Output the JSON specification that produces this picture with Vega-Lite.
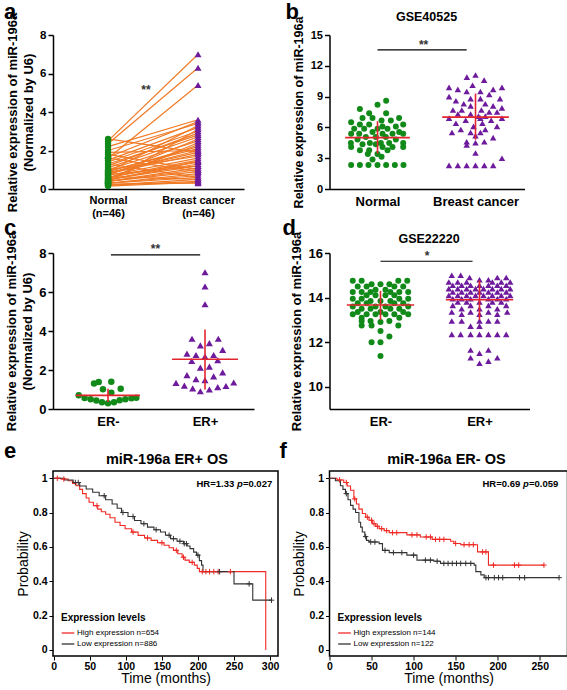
{
"$schema":"https://vega.github.io/schema/vega-lite/v6.json",
"padding":{"left":3,"top":0,"right":0,"bottom":0},
"config":{
 "font":"Liberation Sans",
 "view":{"stroke":null},
 "axis":{"grid":false,"domainColor":"#000","tickColor":"#000","labelColor":"#000","titleColor":"#000","labelFontWeight":"bold","titleFontWeight":"bold","domainWidth":1.5,"tickWidth":1.5,"tickSize":5,"labelFlush":false,"labelOverlap":false},
 "text":{"color":"#000","fontWeight":"bold"}
},
"datasets":{
 "pa":[
  {"p":1,"Normal":2.5,"Breast cancer":7.0},{"p":2,"Normal":2.35,"Breast cancer":6.3},{"p":3,"Normal":1.6,"Breast cancer":5.4},{"p":4,"Normal":2.6,"Breast cancer":1.9},
  {"p":5,"Normal":2.2,"Breast cancer":3.6},{"p":6,"Normal":2.0,"Breast cancer":3.4},{"p":7,"Normal":1.65,"Breast cancer":3.5},{"p":8,"Normal":1.5,"Breast cancer":3.2},
  {"p":9,"Normal":1.4,"Breast cancer":3.0},{"p":10,"Normal":1.3,"Breast cancer":2.8},{"p":11,"Normal":1.2,"Breast cancer":2.9},{"p":12,"Normal":1.1,"Breast cancer":2.7},
  {"p":13,"Normal":1.0,"Breast cancer":2.5},{"p":14,"Normal":0.9,"Breast cancer":3.3},{"p":15,"Normal":0.9,"Breast cancer":2.2},{"p":16,"Normal":0.8,"Breast cancer":2.0},
  {"p":17,"Normal":0.8,"Breast cancer":1.8},{"p":18,"Normal":0.7,"Breast cancer":2.6},{"p":19,"Normal":0.7,"Breast cancer":1.6},{"p":20,"Normal":0.6,"Breast cancer":1.5},
  {"p":21,"Normal":0.6,"Breast cancer":1.4},{"p":22,"Normal":0.5,"Breast cancer":1.3},{"p":23,"Normal":0.5,"Breast cancer":1.2},{"p":24,"Normal":0.5,"Breast cancer":2.4},
  {"p":25,"Normal":0.4,"Breast cancer":1.1},{"p":26,"Normal":0.4,"Breast cancer":1.0},{"p":27,"Normal":0.4,"Breast cancer":0.9},{"p":28,"Normal":0.3,"Breast cancer":0.8},
  {"p":29,"Normal":0.3,"Breast cancer":0.7},{"p":30,"Normal":0.3,"Breast cancer":0.6},{"p":31,"Normal":0.2,"Breast cancer":0.5},{"p":32,"Normal":0.2,"Breast cancer":0.4},
  {"p":33,"Normal":0.25,"Breast cancer":0.3},{"p":34,"Normal":1.6,"Breast cancer":0.9},{"p":35,"Normal":1.3,"Breast cancer":0.6},{"p":36,"Normal":1.0,"Breast cancer":1.7},
  {"p":37,"Normal":0.95,"Breast cancer":2.1},{"p":38,"Normal":0.85,"Breast cancer":1.9},{"p":39,"Normal":0.75,"Breast cancer":1.2},{"p":40,"Normal":0.65,"Breast cancer":0.5},
  {"p":41,"Normal":0.55,"Breast cancer":2.3},{"p":42,"Normal":0.45,"Breast cancer":1.45},{"p":43,"Normal":0.35,"Breast cancer":3.1},{"p":44,"Normal":1.9,"Breast cancer":2.0},
  {"p":45,"Normal":1.8,"Breast cancer":1.0},{"p":46,"Normal":0.15,"Breast cancer":0.35}
 ],
 "bN":[
  {"x":0.088,"v":8.59},{"x":0,"v":8.21},{"x":-0.18,"v":7.79},{"x":-0.085,"v":7.37},{"x":0.088,"v":7.37},{"x":0.22,"v":6.92},{"x":-0.153,"v":6.92},{"x":-0.051,"v":6.92},
  {"x":0.041,"v":6.67},{"x":0.136,"v":6.67},{"x":-0.269,"v":6.51},{"x":-0.18,"v":6.28},{"x":0.262,"v":6.28},{"x":-0.085,"v":6.28},{"x":0.187,"v":6.09},{"x":0.051,"v":6.09},
  {"x":-0.238,"v":5.87},{"x":-0.136,"v":5.87},{"x":0,"v":5.87},{"x":0.102,"v":5.87},{"x":-0.051,"v":5.54},{"x":0.221,"v":5.54},{"x":-0.269,"v":5.38},{"x":-0.187,"v":5.38},
  {"x":0.051,"v":5.38},{"x":0.153,"v":5.38},{"x":0.262,"v":5.38},{"x":-0.119,"v":5.06},{"x":-0.017,"v":5.06},{"x":0.085,"v":5.06},{"x":-0.204,"v":4.81},{"x":0.187,"v":4.81},
  {"x":-0.272,"v":4.49},{"x":-0.078,"v":4.49},{"x":0.034,"v":4.49},{"x":0.119,"v":4.49},{"x":0.262,"v":4.49},{"x":-0.153,"v":4.36},{"x":-0.017,"v":4.36},{"x":-0.269,"v":4.1},
  {"x":0.051,"v":4.1},{"x":0.153,"v":4.1},{"x":0.262,"v":4.1},{"x":-0.18,"v":3.78},{"x":-0.085,"v":3.78},{"x":0.102,"v":3.78},{"x":-0.099,"v":3.4},{"x":0,"v":3.4},
  {"x":0.041,"v":3.14},{"x":-0.051,"v":2.88},{"x":-0.269,"v":2.34},{"x":-0.18,"v":2.34},{"x":-0.092,"v":2.34},{"x":0,"v":2.34},{"x":0.088,"v":2.34},{"x":0.177,"v":2.34},{"x":0.265,"v":2.34}
 ],
 "bT":[
  {"x":1,"v":11.1},{"x":0.912,"v":10.9},{"x":1.088,"v":10.6},{"x":0.97,"v":10.1},{"x":0.73,"v":9.9},{"x":1.27,"v":9.9},{"x":0.82,"v":9.7},{"x":1.18,"v":9.7},
  {"x":0.91,"v":9.5},{"x":1.05,"v":9.5},{"x":1.14,"v":9.2},{"x":0.73,"v":9.0},{"x":0.95,"v":8.8},{"x":1.05,"v":8.8},{"x":1.25,"v":8.8},{"x":0.8,"v":8.6},
  {"x":0.88,"v":8.3},{"x":1.1,"v":8.3},{"x":0.95,"v":8.1},{"x":1.18,"v":8.1},{"x":1.27,"v":7.9},{"x":0.77,"v":7.7},{"x":0.86,"v":7.7},{"x":1.06,"v":7.7},
  {"x":1.14,"v":7.5},{"x":1.22,"v":7.5},{"x":0.95,"v":7.3},{"x":0.82,"v":7.3},{"x":1.03,"v":7.1},{"x":1.1,"v":7.1},{"x":0.73,"v":6.9},{"x":1.05,"v":6.9},
  {"x":1.27,"v":6.9},{"x":0.9,"v":6.7},{"x":1.16,"v":6.7},{"x":0.8,"v":6.4},{"x":1.07,"v":6.4},{"x":0.98,"v":6.1},{"x":1.22,"v":6.1},{"x":0.85,"v":5.8},
  {"x":1.1,"v":5.8},{"x":0.76,"v":5.5},{"x":0.95,"v":5.5},{"x":1.05,"v":5.5},{"x":1,"v":5.2},{"x":1.18,"v":5.0},{"x":0.91,"v":4.6},{"x":1.09,"v":4.6},
  {"x":1,"v":4.5},{"x":0.91,"v":4.3},{"x":1,"v":3.5},{"x":1.27,"v":3.0},{"x":0.73,"v":2.3},{"x":0.82,"v":2.3},{"x":0.91,"v":2.3},{"x":1,"v":2.3},{"x":1.09,"v":2.3},{"x":1.18,"v":2.3}
 ],
 "bS":[
  {"x":-0.33,"x2":0.33,"v":5.0,"v2":5.0},{"x":0,"x2":0,"v":3.46,"v2":6.6},
  {"x":0.66,"x2":1.34,"v":7.0,"v2":7.0},{"x":1,"x2":1,"v":4.8,"v2":9.3}
 ],
 "cN":[
  {"x":-0.144,"v":1.31},{"x":-0.096,"v":1.38},{"x":0.034,"v":1.4},{"x":-0.052,"v":1.01},{"x":0.131,"v":1.04},{"x":0.034,"v":0.84},
  {"x":-0.302,"v":0.7},{"x":-0.241,"v":0.56},{"x":-0.179,"v":0.5},{"x":-0.12,"v":0.43},{"x":-0.062,"v":0.35},{"x":0,"v":0.3},
  {"x":0.062,"v":0.35},{"x":0.12,"v":0.45},{"x":0.179,"v":0.5},{"x":0.241,"v":0.55},{"x":0.292,"v":0.58}
 ],
 "cT":[
  {"x":1,"v":7.01},{"x":1,"v":6.28},{"x":1,"v":5.37},{"x":0.866,"v":3.6},{"x":1.137,"v":3.6},{"x":0.952,"v":3.26},{"x":1.045,"v":3.38},
  {"x":0.814,"v":2.84},{"x":0.907,"v":2.77},{"x":1,"v":2.69},{"x":1.089,"v":2.77},{"x":1.182,"v":3.03},{"x":0.863,"v":2.46},{"x":1.131,"v":2.5},
  {"x":0.952,"v":2.12},{"x":1.045,"v":2.17},{"x":0.814,"v":1.74},{"x":0.907,"v":1.53},{"x":1,"v":1.48},{"x":1.089,"v":1.67},{"x":1.182,"v":1.88},
  {"x":0.701,"v":1.34},{"x":0.787,"v":1.2},{"x":0.873,"v":1.06},{"x":0.952,"v":0.91},{"x":1.045,"v":1.0},{"x":1.131,"v":1.12},{"x":1.216,"v":1.18},{"x":1.296,"v":1.36}
 ],
 "cS":[
  {"x":-0.33,"x2":0.33,"v":0.7,"v2":0.7},{"x":0,"x2":0,"v":0.36,"v2":1.04},
  {"x":0.66,"x2":1.34,"v":2.55,"v2":2.55},{"x":1,"x2":1,"v":1.0,"v2":4.08}
 ],
 "dN":[
  {"x":-0.28,"v":14.75},{"x":-0.19,"v":14.75},{"x":0.18,"v":14.75},{"x":0.27,"v":14.75},
  {"x":-0.09,"v":14.6},{"x":0,"v":14.6},{"x":0.09,"v":14.6},
  {"x":-0.23,"v":14.5},{"x":-0.14,"v":14.5},{"x":0.14,"v":14.5},{"x":0.23,"v":14.5},
  {"x":-0.05,"v":14.35},{"x":0.05,"v":14.35},
  {"x":-0.28,"v":14.25},{"x":-0.19,"v":14.25},{"x":-0.1,"v":14.25},{"x":0.1,"v":14.25},{"x":0.19,"v":14.25},{"x":0.28,"v":14.25},
  {"x":-0.14,"v":14.1},{"x":-0.05,"v":14.1},{"x":0.05,"v":14.1},{"x":0.14,"v":14.1},
  {"x":-0.28,"v":13.95},{"x":-0.19,"v":13.95},{"x":0.19,"v":13.95},{"x":0.28,"v":13.95},
  {"x":-0.1,"v":13.85},{"x":0,"v":13.85},{"x":0.1,"v":13.85},
  {"x":-0.23,"v":13.75},{"x":-0.14,"v":13.75},{"x":0.14,"v":13.75},{"x":0.23,"v":13.75},
  {"x":-0.28,"v":13.6},{"x":-0.05,"v":13.6},{"x":0.05,"v":13.6},{"x":0.28,"v":13.6},
  {"x":-0.19,"v":13.5},{"x":-0.1,"v":13.5},{"x":0.1,"v":13.5},{"x":0.19,"v":13.5},
  {"x":-0.23,"v":13.35},{"x":0,"v":13.35},{"x":0.23,"v":13.35},
  {"x":-0.28,"v":13.25},{"x":-0.14,"v":13.25},{"x":-0.05,"v":13.25},{"x":0.05,"v":13.25},{"x":0.14,"v":13.25},{"x":0.28,"v":13.25},
  {"x":-0.19,"v":13.1},{"x":0.19,"v":13.1},
  {"x":-0.19,"v":12.95},{"x":-0.1,"v":12.95},{"x":0.09,"v":12.95},{"x":0,"v":12.9},
  {"x":-0.19,"v":12.75},{"x":-0.09,"v":12.75},{"x":0.18,"v":12.75},
  {"x":0,"v":12.5},{"x":0.09,"v":12.25},{"x":-0.09,"v":12.0},{"x":0,"v":12.0},{"x":0,"v":11.38}
 ],
 "dT":[
  {"x":0.72,"v":15.0},{"x":0.81,"v":15.0},
  {"x":0.9,"v":14.9},{"x":1.18,"v":14.9},{"x":1.27,"v":14.9},
  {"x":1.0,"v":14.8},{"x":1.09,"v":14.8},
  {"x":0.69,"v":14.7},{"x":0.78,"v":14.7},{"x":0.87,"v":14.7},{"x":1.13,"v":14.7},{"x":1.22,"v":14.7},{"x":1.31,"v":14.7},
  {"x":0.73,"v":14.55},{"x":0.82,"v":14.55},{"x":0.91,"v":14.55},{"x":1.0,"v":14.55},{"x":1.09,"v":14.55},{"x":1.18,"v":14.55},{"x":1.27,"v":14.55},
  {"x":0.69,"v":14.4},{"x":0.78,"v":14.4},{"x":0.87,"v":14.4},{"x":0.96,"v":14.4},{"x":1.04,"v":14.4},{"x":1.13,"v":14.4},{"x":1.22,"v":14.4},{"x":1.31,"v":14.4},
  {"x":0.73,"v":14.25},{"x":0.82,"v":14.25},{"x":0.91,"v":14.25},{"x":1.0,"v":14.25},{"x":1.09,"v":14.25},{"x":1.18,"v":14.25},{"x":1.27,"v":14.25},
  {"x":0.69,"v":14.1},{"x":0.78,"v":14.1},{"x":0.87,"v":14.1},{"x":0.96,"v":14.1},{"x":1.04,"v":14.1},{"x":1.13,"v":14.1},{"x":1.22,"v":14.1},{"x":1.31,"v":14.1},
  {"x":0.73,"v":13.95},{"x":0.82,"v":13.95},{"x":0.91,"v":13.95},{"x":1.09,"v":13.95},{"x":1.18,"v":13.95},{"x":1.27,"v":13.95},
  {"x":0.78,"v":13.8},{"x":0.87,"v":13.8},{"x":1.0,"v":13.8},{"x":1.13,"v":13.8},{"x":1.22,"v":13.8},
  {"x":0.73,"v":13.65},{"x":0.91,"v":13.65},{"x":1.09,"v":13.65},{"x":1.27,"v":13.65},
  {"x":0.82,"v":13.5},{"x":1.0,"v":13.5},{"x":1.18,"v":13.5},
  {"x":0.72,"v":13.35},{"x":0.91,"v":13.35},{"x":1.09,"v":13.35},{"x":1.28,"v":13.35},
  {"x":0.82,"v":13.25},{"x":1.0,"v":13.25},{"x":1.18,"v":13.25},
  {"x":0.72,"v":12.95},{"x":0.82,"v":12.95},{"x":1.0,"v":12.95},{"x":1.09,"v":12.95},{"x":1.18,"v":12.95},
  {"x":0.91,"v":12.72},{"x":1.0,"v":12.72},
  {"x":0.72,"v":12.35},{"x":0.81,"v":12.35},{"x":0.91,"v":12.35},{"x":1.0,"v":12.35},{"x":1.09,"v":12.35},{"x":1.18,"v":12.35},{"x":1.27,"v":12.35},
  {"x":0.91,"v":11.65},{"x":1.09,"v":11.65},{"x":1.0,"v":11.5},{"x":0.91,"v":11.3},{"x":1.18,"v":11.3},{"x":1.09,"v":11.15},{"x":1.0,"v":11.05}
 ],
 "dS":[
  {"x":-0.34,"x2":0.34,"v":13.67,"v2":13.67},{"x":0,"x2":0,"v":13.0,"v2":14.3},
  {"x":0.66,"x2":1.34,"v":13.9,"v2":13.9},{"x":1,"x2":1,"v":13.0,"v2":14.77}
 ],
 "kmE":[
  {"grp":"High expression n=654","t":0,"s":1},{"grp":"High expression n=654","t":10,"s":0.995},{"grp":"High expression n=654","t":20,"s":0.985},{"grp":"High expression n=654","t":26,"s":0.97},
  {"grp":"High expression n=654","t":31,"s":0.956},{"grp":"High expression n=654","t":36,"s":0.935},{"grp":"High expression n=654","t":40,"s":0.91},{"grp":"High expression n=654","t":45,"s":0.885},
  {"grp":"High expression n=654","t":49,"s":0.86},{"grp":"High expression n=654","t":55,"s":0.84},{"grp":"High expression n=654","t":61,"s":0.82},{"grp":"High expression n=654","t":66,"s":0.805},
  {"grp":"High expression n=654","t":72,"s":0.79},{"grp":"High expression n=654","t":78,"s":0.77},{"grp":"High expression n=654","t":85,"s":0.744},{"grp":"High expression n=654","t":92,"s":0.725},
  {"grp":"High expression n=654","t":99,"s":0.706},{"grp":"High expression n=654","t":108,"s":0.686},{"grp":"High expression n=654","t":117,"s":0.667},{"grp":"High expression n=654","t":126,"s":0.652},
  {"grp":"High expression n=654","t":135,"s":0.638},{"grp":"High expression n=654","t":144,"s":0.624},{"grp":"High expression n=654","t":153,"s":0.61},{"grp":"High expression n=654","t":160,"s":0.595},
  {"grp":"High expression n=654","t":166,"s":0.58},{"grp":"High expression n=654","t":172,"s":0.56},{"grp":"High expression n=654","t":178,"s":0.54},{"grp":"High expression n=654","t":182,"s":0.523},
  {"grp":"High expression n=654","t":188,"s":0.51},{"grp":"High expression n=654","t":195,"s":0.494},{"grp":"High expression n=654","t":199,"s":0.475},{"grp":"High expression n=654","t":202,"s":0.456},
  {"grp":"High expression n=654","t":294,"s":0},
  {"grp":"Low expression n=886","t":0,"s":1},{"grp":"Low expression n=886","t":15,"s":0.99},{"grp":"Low expression n=886","t":27,"s":0.975},{"grp":"Low expression n=886","t":36,"s":0.955},
  {"grp":"Low expression n=886","t":45,"s":0.937},{"grp":"Low expression n=886","t":54,"s":0.918},{"grp":"Low expression n=886","t":63,"s":0.898},{"grp":"Low expression n=886","t":72,"s":0.875},
  {"grp":"Low expression n=886","t":81,"s":0.85},{"grp":"Low expression n=886","t":88,"s":0.825},{"grp":"Low expression n=886","t":94,"s":0.8},{"grp":"Low expression n=886","t":103,"s":0.777},
  {"grp":"Low expression n=886","t":112,"s":0.754},{"grp":"Low expression n=886","t":121,"s":0.735},{"grp":"Low expression n=886","t":130,"s":0.715},{"grp":"Low expression n=886","t":139,"s":0.7},
  {"grp":"Low expression n=886","t":148,"s":0.687},{"grp":"Low expression n=886","t":155,"s":0.668},{"grp":"Low expression n=886","t":162,"s":0.648},{"grp":"Low expression n=886","t":171,"s":0.633},
  {"grp":"Low expression n=886","t":180,"s":0.619},{"grp":"Low expression n=886","t":185,"s":0.605},{"grp":"Low expression n=886","t":189,"s":0.59},{"grp":"Low expression n=886","t":194,"s":0.57},
  {"grp":"Low expression n=886","t":198,"s":0.552},{"grp":"Low expression n=886","t":202,"s":0.52},{"grp":"Low expression n=886","t":205,"s":0.494},{"grp":"Low expression n=886","t":207,"s":0.456},
  {"grp":"Low expression n=886","t":250,"s":0.385},{"grp":"Low expression n=886","t":276,"s":0.29},{"grp":"Low expression n=886","t":302,"s":0.29}
 ],
 "kmEc":[
  {"grp":"High expression n=654","t":5,"s":1},{"grp":"High expression n=654","t":14,"s":0.995},{"grp":"High expression n=654","t":60,"s":0.84},{"grp":"High expression n=654","t":110,"s":0.686},
  {"grp":"High expression n=654","t":130,"s":0.652},{"grp":"High expression n=654","t":150,"s":0.624},{"grp":"High expression n=654","t":170,"s":0.58},{"grp":"High expression n=654","t":180,"s":0.54},
  {"grp":"High expression n=654","t":192,"s":0.51},{"grp":"High expression n=654","t":206,"s":0.456},{"grp":"High expression n=654","t":211,"s":0.456},{"grp":"High expression n=654","t":216,"s":0.456},
  {"grp":"High expression n=654","t":222,"s":0.456},{"grp":"High expression n=654","t":228,"s":0.456},{"grp":"High expression n=654","t":245,"s":0.456},
  {"grp":"Low expression n=886","t":30,"s":0.975},{"grp":"Low expression n=886","t":34,"s":0.975},{"grp":"Low expression n=886","t":70,"s":0.898},{"grp":"Low expression n=886","t":96,"s":0.8},
  {"grp":"Low expression n=886","t":110,"s":0.777},{"grp":"Low expression n=886","t":125,"s":0.735},{"grp":"Low expression n=886","t":142,"s":0.7},{"grp":"Low expression n=886","t":160,"s":0.668},
  {"grp":"Low expression n=886","t":166,"s":0.648},{"grp":"Low expression n=886","t":175,"s":0.633},{"grp":"Low expression n=886","t":181,"s":0.619},{"grp":"Low expression n=886","t":184,"s":0.619},
  {"grp":"Low expression n=886","t":200,"s":0.552},{"grp":"Low expression n=886","t":230,"s":0.456},{"grp":"Low expression n=886","t":271,"s":0.385},{"grp":"Low expression n=886","t":302,"s":0.29}
 ],
 "kmF":[
  {"grp":"High expression n=144","t":0,"s":1},{"grp":"High expression n=144","t":9,"s":0.99},{"grp":"High expression n=144","t":17,"s":0.975},{"grp":"High expression n=144","t":21,"s":0.955},
  {"grp":"High expression n=144","t":25,"s":0.93},{"grp":"High expression n=144","t":29,"s":0.88},{"grp":"High expression n=144","t":32,"s":0.85},{"grp":"High expression n=144","t":35,"s":0.82},
  {"grp":"High expression n=144","t":39,"s":0.795},{"grp":"High expression n=144","t":43,"s":0.773},{"grp":"High expression n=144","t":47,"s":0.755},{"grp":"High expression n=144","t":51,"s":0.735},
  {"grp":"High expression n=144","t":55,"s":0.72},{"grp":"High expression n=144","t":59,"s":0.706},{"grp":"High expression n=144","t":65,"s":0.695},{"grp":"High expression n=144","t":71,"s":0.683},
  {"grp":"High expression n=144","t":92,"s":0.67},{"grp":"High expression n=144","t":108,"s":0.658},{"grp":"High expression n=144","t":122,"s":0.644},{"grp":"High expression n=144","t":144,"s":0.633},
  {"grp":"High expression n=144","t":148,"s":0.62},{"grp":"High expression n=144","t":156,"s":0.613},{"grp":"High expression n=144","t":176,"s":0.571},{"grp":"High expression n=144","t":189,"s":0.494},
  {"grp":"High expression n=144","t":255,"s":0.494},
  {"grp":"Low expression n=122","t":0,"s":1},{"grp":"Low expression n=122","t":7,"s":0.985},{"grp":"Low expression n=122","t":13,"s":0.956},{"grp":"Low expression n=122","t":16,"s":0.935},
  {"grp":"Low expression n=122","t":19,"s":0.91},{"grp":"Low expression n=122","t":22,"s":0.875},{"grp":"Low expression n=122","t":25,"s":0.842},{"grp":"Low expression n=122","t":28,"s":0.82},
  {"grp":"Low expression n=122","t":31,"s":0.8},{"grp":"Low expression n=122","t":35,"s":0.744},{"grp":"Low expression n=122","t":37,"s":0.715},{"grp":"Low expression n=122","t":39,"s":0.687},
  {"grp":"Low expression n=122","t":42,"s":0.66},{"grp":"Low expression n=122","t":44,"s":0.638},{"grp":"Low expression n=122","t":47,"s":0.629},{"grp":"Low expression n=122","t":59,"s":0.619},
  {"grp":"Low expression n=122","t":63,"s":0.58},{"grp":"Low expression n=122","t":71,"s":0.567},{"grp":"Low expression n=122","t":92,"s":0.552},{"grp":"Low expression n=122","t":104,"s":0.523},
  {"grp":"Low expression n=122","t":124,"s":0.517},{"grp":"Low expression n=122","t":132,"s":0.504},{"grp":"Low expression n=122","t":172,"s":0.494},{"grp":"Low expression n=122","t":174,"s":0.456},
  {"grp":"Low expression n=122","t":180,"s":0.437},{"grp":"Low expression n=122","t":184,"s":0.421},{"grp":"Low expression n=122","t":273,"s":0.421}
 ],
 "kmFc":[
  {"grp":"High expression n=144","t":12,"s":0.99},{"grp":"High expression n=144","t":20,"s":0.975},{"grp":"High expression n=144","t":30,"s":0.88},{"grp":"High expression n=144","t":45,"s":0.773},
  {"grp":"High expression n=144","t":50,"s":0.755},{"grp":"High expression n=144","t":53,"s":0.735},{"grp":"High expression n=144","t":57,"s":0.72},{"grp":"High expression n=144","t":62,"s":0.706},
  {"grp":"High expression n=144","t":68,"s":0.695},{"grp":"High expression n=144","t":75,"s":0.683},{"grp":"High expression n=144","t":80,"s":0.683},{"grp":"High expression n=144","t":98,"s":0.67},
  {"grp":"High expression n=144","t":104,"s":0.67},{"grp":"High expression n=144","t":115,"s":0.658},{"grp":"High expression n=144","t":120,"s":0.658},{"grp":"High expression n=144","t":126,"s":0.644},
  {"grp":"High expression n=144","t":131,"s":0.644},{"grp":"High expression n=144","t":136,"s":0.644},{"grp":"High expression n=144","t":150,"s":0.62},{"grp":"High expression n=144","t":160,"s":0.613},
  {"grp":"High expression n=144","t":166,"s":0.613},{"grp":"High expression n=144","t":171,"s":0.613},{"grp":"High expression n=144","t":182,"s":0.571},{"grp":"High expression n=144","t":186,"s":0.571},
  {"grp":"High expression n=144","t":195,"s":0.494},{"grp":"High expression n=144","t":220,"s":0.494},{"grp":"High expression n=144","t":225,"s":0.494},{"grp":"High expression n=144","t":255,"s":0.494},
  {"grp":"Low expression n=122","t":20,"s":0.91},{"grp":"Low expression n=122","t":43,"s":0.66},{"grp":"Low expression n=122","t":49,"s":0.629},{"grp":"Low expression n=122","t":54,"s":0.629},
  {"grp":"Low expression n=122","t":66,"s":0.58},{"grp":"Low expression n=122","t":76,"s":0.567},{"grp":"Low expression n=122","t":86,"s":0.567},{"grp":"Low expression n=122","t":100,"s":0.552},
  {"grp":"Low expression n=122","t":114,"s":0.523},{"grp":"Low expression n=122","t":120,"s":0.523},{"grp":"Low expression n=122","t":128,"s":0.517},{"grp":"Low expression n=122","t":136,"s":0.504},
  {"grp":"Low expression n=122","t":141,"s":0.504},{"grp":"Low expression n=122","t":146,"s":0.504},{"grp":"Low expression n=122","t":151,"s":0.504},{"grp":"Low expression n=122","t":156,"s":0.504},
  {"grp":"Low expression n=122","t":162,"s":0.504},{"grp":"Low expression n=122","t":168,"s":0.504},{"grp":"Low expression n=122","t":186,"s":0.421},{"grp":"Low expression n=122","t":189,"s":0.421},
  {"grp":"Low expression n=122","t":196,"s":0.421},{"grp":"Low expression n=122","t":201,"s":0.421},{"grp":"Low expression n=122","t":206,"s":0.421},{"grp":"Low expression n=122","t":226,"s":0.421},
  {"grp":"Low expression n=122","t":232,"s":0.421},{"grp":"Low expression n=122","t":273,"s":0.421}
 ]
},
"columns":2,
"bounds":"flush",
"align":"all",
"spacing":{"row":33,"column":38.5},
"resolve":{"scale":{"color":"independent"},"legend":{"color":"independent"}},
"concat":[
 {"width":191,"height":154,
  "encoding":{
   "x":{"field":"g","type":"nominal","scale":{"type":"point","domain":["Normal","Breast cancer"],"padding":0.561,"align":0.545},
        "axis":{"title":null,"ticks":false,"labelAngle":0,"labelFontSize":11,"labelPadding":5,"labelLineHeight":13,"labelOverlap":false,"labelExpr":"datum.value == 'Normal' ? ['Normal','(n=46)'] : ['Breast cancer','(n=46)']"}},
   "y":{"field":"v","type":"quantitative","scale":{"domain":[0,8],"nice":false},
        "axis":{"values":[0,2,4,6,8],"labelOverlap":false,"title":["Relative expression of miR-196a","(Normalized by U6)"],"titleFontSize":13,"titleLineHeight":16,"labelFontSize":11.5,"titlePadding":4,"labelPadding":2}}
  },
  "layer":[
   {"data":{"name":"pa"},"transform":[{"fold":["Normal","Breast cancer"],"as":["g","v"]}],
    "mark":{"type":"line","color":"#f07a26","strokeWidth":1.2},"encoding":{"detail":{"field":"p","type":"nominal"}}},
   {"data":{"name":"pa"},"transform":[{"fold":["Normal"],"as":["g","v"]}],
    "mark":{"type":"point","shape":"circle","filled":true,"color":"#118a1a","size":40,"opacity":1}},
   {"data":{"name":"pa"},"transform":[{"fold":["Breast cancer"],"as":["g","v"]}],
    "mark":{"type":"point","shape":"triangle-up","filled":true,"color":"#6d1a9c","size":48,"opacity":1}},
   {"data":{"values":[{"g":"Normal","v":5.15}]},"mark":{"type":"text","text":"**","fontSize":12,"color":"#333","dx":38}},
   {"data":{"values":[{"g":"Normal","v":8.83}]},"mark":{"type":"text","text":"a","fontSize":22,"align":"left","baseline":"alphabetic","dx":-104}}
  ]
 },
 {"width":195,"height":154,
  "encoding":{
   "x":{"field":"x","type":"quantitative","scale":{"domain":[-0.49,1.5],"nice":false,"zero":false},
        "axis":{"title":null,"values":[0,1],"ticks":false,"labelFontSize":13,"labelPadding":6,"labelOverlap":false,"labelExpr":"datum.value == 0 ? 'Normal' : 'Breast cancer'"}},
   "y":{"field":"v","type":"quantitative","scale":{"domain":[0,15],"nice":false},
        "axis":{"values":[0,3,6,9,12,15],"labelOverlap":false,"title":"Relative expression of miR-196a","titleFontSize":12.5,"labelFontSize":11,"titlePadding":5,"labelPadding":2}}
  },
  "layer":[
   {"data":{"name":"bN"},"mark":{"type":"point","shape":"circle","filled":true,"color":"#118a1a","size":36,"opacity":1}},
   {"data":{"name":"bT"},"mark":{"type":"point","shape":"triangle-up","filled":true,"color":"#6d1a9c","size":42,"opacity":1}},
   {"data":{"name":"bS"},"mark":{"type":"rule","color":"#e3262e","strokeWidth":1.6},"encoding":{"x2":{"field":"x2"},"y2":{"field":"v2"}}},
   {"data":{"values":[{"x":0,"x2":0.91,"v":13.56}]},"mark":{"type":"rule","color":"#000","strokeWidth":1.2},"encoding":{"x2":{"field":"x2"}}},
   {"data":{"values":[{"x":0.47,"v":14.05}]},"mark":{"type":"text","text":"**","fontSize":12,"color":"#333"}},
   {"data":{"values":[{"x":0.5,"v":16.75}]},"mark":{"type":"text","text":"GSE40525","fontSize":12.5,"baseline":"middle"}},
   {"data":{"values":[{"x":-0.939,"v":16.56}]},"mark":{"type":"text","text":"b","fontSize":22,"align":"left","baseline":"alphabetic"}}
  ]
 },
 {"width":201,"height":156,
  "encoding":{
   "x":{"field":"x","type":"quantitative","scale":{"domain":[-0.567,1.505],"nice":false,"zero":false},
        "axis":{"title":null,"values":[0,1],"ticks":false,"labelFontSize":13,"labelPadding":6,"labelOverlap":false,"labelExpr":"datum.value == 0 ? 'ER-' : 'ER+'"}},
   "y":{"field":"v","type":"quantitative","scale":{"domain":[0,8],"nice":false},
        "axis":{"values":[0,2,4,6,8],"labelOverlap":false,"title":["Relative expression of miR-196a","(Normalized by U6)"],"titleFontSize":13,"titleLineHeight":16,"labelFontSize":13,"titlePadding":4,"labelPadding":2}}
  },
  "layer":[
   {"data":{"name":"cN"},"mark":{"type":"point","shape":"circle","filled":true,"color":"#118a1a","size":42,"opacity":1}},
   {"data":{"name":"cT"},"mark":{"type":"point","shape":"triangle-up","filled":true,"color":"#6d1a9c","size":50,"opacity":1}},
   {"data":{"name":"cS"},"mark":{"type":"rule","color":"#e3262e","strokeWidth":1.6},"encoding":{"x2":{"field":"x2"},"y2":{"field":"v2"}}},
   {"data":{"values":[{"x":0.03,"x2":0.95,"v":7.9}]},"mark":{"type":"rule","color":"#000","strokeWidth":1.2},"encoding":{"x2":{"field":"x2"}}},
   {"data":{"values":[{"x":0.49,"v":8.2}]},"mark":{"type":"text","text":"**","fontSize":12,"color":"#333"}},
   {"data":{"values":[{"x":-1.072,"v":8.92}]},"mark":{"type":"text","text":"c","fontSize":22,"align":"left","baseline":"alphabetic"}}
  ]
 },
 {"width":200,"height":156,
  "encoding":{
   "x":{"field":"x","type":"quantitative","scale":{"domain":[-0.515,1.505],"nice":false,"zero":false},
        "axis":{"title":null,"values":[0,1],"ticks":false,"labelFontSize":13,"labelPadding":6,"labelOverlap":false,"labelExpr":"datum.value == 0 ? 'ER-' : 'ER+'"}},
   "y":{"field":"v","type":"quantitative","scale":{"domain":[9,16],"nice":false,"zero":false},
        "axis":{"values":[10,12,14,16],"labelOverlap":false,"title":"Relative expression of miR-196a","titleFontSize":13,"labelFontSize":13,"titlePadding":5,"labelPadding":2}}
  },
  "layer":[
   {"data":{"name":"dN"},"mark":{"type":"point","shape":"circle","filled":true,"color":"#118a1a","size":36,"opacity":1}},
   {"data":{"name":"dT"},"mark":{"type":"point","shape":"triangle-up","filled":true,"color":"#6d1a9c","size":42,"opacity":1}},
   {"data":{"name":"dS"},"mark":{"type":"rule","color":"#e3262e","strokeWidth":1.6},"encoding":{"x2":{"field":"x2"},"y2":{"field":"v2"}}},
   {"data":{"values":[{"x":0,"x2":0.93,"v":15.63}]},"mark":{"type":"rule","color":"#000","strokeWidth":1.2},"encoding":{"x2":{"field":"x2"}}},
   {"data":{"values":[{"x":0.47,"v":15.88}]},"mark":{"type":"text","text":"*","fontSize":12,"color":"#333"}},
   {"data":{"values":[{"x":0.49,"v":16.63}]},"mark":{"type":"text","text":"GSE22220","fontSize":12.5,"baseline":"middle"}},
   {"data":{"values":[{"x":-0.99,"v":16.81}]},"mark":{"type":"text","text":"d","fontSize":22,"align":"left","baseline":"alphabetic"}}
  ]
 },
 {"width":225,"height":185,
  "view":{"stroke":"#000","strokeWidth":1.5},
  "encoding":{
   "x":{"field":"t","type":"quantitative","scale":{"domain":[-1,311],"nice":false,"zero":false},
        "axis":{"values":[0,50,100,150,200,250,300],"labelOverlap":false,"title":"Time (months)","titleFontWeight":"normal","titleFontSize":14,"labelFontSize":10.5,"tickSize":4,"tickWidth":1,"domain":false,"titlePadding":0,"labelPadding":1}},
   "y":{"field":"s","type":"quantitative","scale":{"domain":[-0.035,1.042],"nice":false,"zero":false},
        "axis":{"values":[0,0.2,0.4,0.6,0.8,1],"labelOverlap":false,"format":"~g","title":"Probability","titleFontWeight":"normal","titleFontSize":14,"labelFontSize":10.5,"tickSize":4,"tickWidth":1,"domain":false,"titlePadding":2,"labelPadding":2}}
  },
  "layer":[
   {"data":{"name":"kmE"},"mark":{"type":"line","interpolate":"step-after","strokeWidth":1.1},
    "encoding":{"color":{"field":"grp","type":"nominal","scale":{"domain":["High expression n=654","Low expression n=886"],"range":["#ee2a24","#333333"]},
        "legend":{"title":"Expression levels","orient":"bottom-left","offset":8,"titleFontSize":10,"titleFontWeight":"bold","titleColor":"#000","labelFontSize":8,"labelColor":"#000","symbolType":"stroke","symbolSize":160,"symbolStrokeWidth":1.3,"rowPadding":0,"titlePadding":3,"labelOffset":2,"padding":0}}}},
   {"data":{"name":"kmEc"},"mark":{"type":"point","shape":"M-1,0L1,0M0,-1L0,1","filled":false,"size":30,"strokeWidth":1,"opacity":1},
    "encoding":{"color":{"field":"grp","type":"nominal"}}},
   {"data":{"values":[{"t":303,"s":0.965}]},"mark":{"type":"text","text":"=0.027","fontSize":9.5,"align":"right","baseline":"middle"}},
   {"data":{"values":[{"t":303,"s":0.965}]},"mark":{"type":"text","text":"p","fontSize":9.5,"fontStyle":"italic","align":"right","baseline":"middle","dx":-29.5}},
   {"data":{"values":[{"t":303,"s":0.965}]},"mark":{"type":"text","text":"HR=1.33","fontSize":9.5,"align":"right","baseline":"middle","dx":-38}},
   {"data":{"values":[{"t":157,"s":1.106}]},"mark":{"type":"text","text":"miR-196a ER+ OS","fontSize":14.5,"baseline":"middle"}},
   {"data":{"values":[{"t":-68.9,"s":1.118}]},"mark":{"type":"text","text":"e","fontSize":22,"align":"left","baseline":"alphabetic"}}
  ]
 },
 {"width":238,"height":185,
  "view":{"stroke":"#000","strokeWidth":1.5},
  "encoding":{
   "x":{"field":"t","type":"quantitative","scale":{"domain":[0,283],"nice":false,"zero":false},
        "axis":{"values":[0,50,100,150,200,250],"labelOverlap":false,"title":"Time (months)","titleFontWeight":"normal","titleFontSize":14,"labelFontSize":10.5,"tickSize":4,"tickWidth":1,"domain":false,"titlePadding":0,"labelPadding":1}},
   "y":{"field":"s","type":"quantitative","scale":{"domain":[-0.035,1.042],"nice":false,"zero":false},
        "axis":{"values":[0,0.2,0.4,0.6,0.8,1],"labelOverlap":false,"format":"~g","title":"Probability","titleFontWeight":"normal","titleFontSize":14,"labelFontSize":10.5,"tickSize":4,"tickWidth":1,"domain":false,"titlePadding":2,"labelPadding":2}}
  },
  "layer":[
   {"data":{"name":"kmF"},"mark":{"type":"line","interpolate":"step-after","strokeWidth":1.1},
    "encoding":{"color":{"field":"grp","type":"nominal","scale":{"domain":["High expression n=144","Low expression n=122"],"range":["#ee2a24","#333333"]},
        "legend":{"title":"Expression levels","orient":"bottom-left","offset":8,"titleFontSize":10,"titleFontWeight":"bold","titleColor":"#000","labelFontSize":8,"labelColor":"#000","symbolType":"stroke","symbolSize":160,"symbolStrokeWidth":1.3,"rowPadding":0,"titlePadding":3,"labelOffset":2,"padding":0}}}},
   {"data":{"name":"kmFc"},"mark":{"type":"point","shape":"M-1,0L1,0M0,-1L0,1","filled":false,"size":30,"strokeWidth":1,"opacity":1},
    "encoding":{"color":{"field":"grp","type":"nominal"}}},
   {"data":{"values":[{"t":272,"s":0.965}]},"mark":{"type":"text","text":"=0.059","fontSize":9.5,"align":"right","baseline":"middle"}},
   {"data":{"values":[{"t":272,"s":0.965}]},"mark":{"type":"text","text":"p","fontSize":9.5,"fontStyle":"italic","align":"right","baseline":"middle","dx":-29.5}},
   {"data":{"values":[{"t":272,"s":0.965}]},"mark":{"type":"text","text":"HR=0.69","fontSize":9.5,"align":"right","baseline":"middle","dx":-38}},
   {"data":{"values":[{"t":139,"s":1.106}]},"mark":{"type":"text","text":"miR-196a ER- OS","fontSize":14.5,"baseline":"middle"}},
   {"data":{"values":[{"t":-59.5,"s":1.118}]},"mark":{"type":"text","text":"f","fontSize":22,"align":"left","baseline":"alphabetic"}}
  ]
 }
]
}
